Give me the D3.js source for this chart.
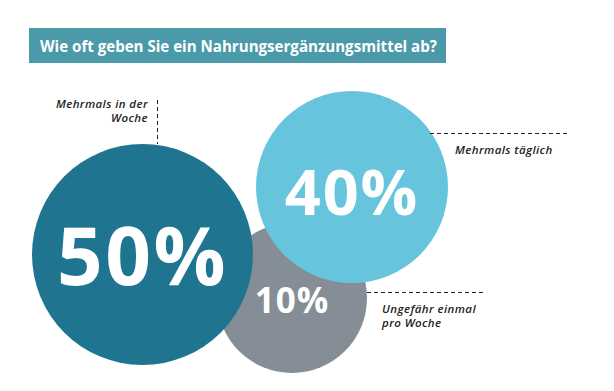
<!DOCTYPE html>
<html><head><meta charset="utf-8">
<script src="https://cdn.jsdelivr.net/npm/d3@7"></script>
<style>body{margin:0;background:#fff}svg{display:block}</style>
</head><body>
<script>
const title = "Wie oft geben Sie ein Nahrungsergänzungsmittel ab?";
const categories = ["Mehrmals in der Woche", "Mehrmals täglich", "Ungefähr einmal pro Woche"];
const values = [50, 40, 10];
const valueLabels = ["50%", "40%", "10%"];

const W = 614, H = 391;
const svg = d3.select("body").append("svg").attr("width", W).attr("height", H);

// layout
const colors = ["#1f7590", "#66c5dc", "#858e96"];
const centers = [[142.5, 254.5], [352, 187], [292, 298]];
const fontSizes = [80, 63, 35];
const baselines = [285, 215, 313];
const r = d3.scaleLinear().domain([10, 40, 50]).range([75, 96, 110.5]);

// title banner
svg.append("rect").attr("x", 29).attr("y", 28).attr("width", 417).attr("height", 35).attr("fill", "#4a9aa9");
svg.append("text").attr("x", 40).attr("y", 51.5).text(title)
  .attr("fill", "#fff").attr("font-family", "Open Sans, sans-serif").attr("font-weight", 700)
  .attr("font-size", 15.5).attr("textLength", 397).attr("lengthAdjust", "spacingAndGlyphs");

const data = categories.map((c, i) => ({c, v: values[i], lab: valueLabels[i], i}));
const drawOrder = [2, 1, 0];

svg.selectAll("circle").data(drawOrder.map(i => data[i])).join("circle")
  .attr("cx", d => centers[d.i][0]).attr("cy", d => centers[d.i][1])
  .attr("r", d => r(d.v)).attr("fill", d => colors[d.i]);

svg.selectAll("text.val").data(drawOrder.map(i => data[i])).join("text").attr("class", "val")
  .attr("x", d => centers[d.i][0]).attr("y", d => baselines[d.i])
  .attr("text-anchor", "middle").attr("fill", "#fff")
  .attr("font-family", "Open Sans, sans-serif").attr("font-weight", 700)
  .attr("letter-spacing", d => fontSizes[d.i] * 0.03)
  .attr("font-size", d => fontSizes[d.i]).text(d => d.lab);

// dashed leader lines
const dash = {stroke: "#222", "stroke-width": 1, "stroke-dasharray": "4,3"};
function line(x1, y1, x2, y2) {
  const l = svg.append("line").attr("x1", x1).attr("y1", y1).attr("x2", x2).attr("y2", y2);
  Object.entries(dash).forEach(([k, v]) => l.attr(k, v));
}
line(157.5, 100, 157.5, 144);
line(430, 133.5, 570, 133.5);
line(367, 292.5, 484, 292.5);

// labels
const lblStyle = t => t.attr("font-family", "Open Sans, sans-serif").attr("font-style", "italic")
  .attr("font-weight", 600).attr("font-size", 11.5).attr("letter-spacing", 0.4).attr("fill", "#222");
const l0 = svg.append("text").attr("text-anchor", "end").call(lblStyle);
l0.append("tspan").attr("x", 148).attr("y", 108).text("Mehrmals in der");
l0.append("tspan").attr("x", 148).attr("y", 122).text("Woche");
svg.append("text").call(lblStyle).attr("x", 455).attr("y", 154).text(categories[1]);
const l2 = svg.append("text").call(lblStyle);
l2.append("tspan").attr("x", 382).attr("y", 313).text("Ungefähr einmal");
l2.append("tspan").attr("x", 382).attr("y", 327).text("pro Woche");
</script>
</body></html>
